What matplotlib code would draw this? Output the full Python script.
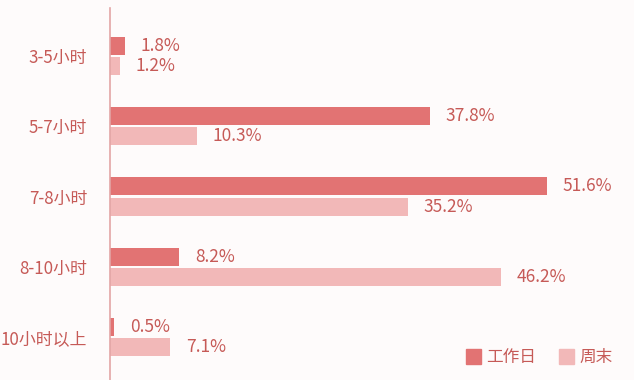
import matplotlib.pyplot as plt
import numpy as np
from matplotlib.patches import Patch

plt.rcParams['font.family'] = ['Noto Sans CJK SC', 'DejaVu Sans']

categories = ['3-5小时', '5-7小时', '7-8小时', '8-10小时', '10小时以上']
weekday = [1.8, 37.8, 51.6, 8.2, 0.5]
weekend = [1.2, 10.3, 35.2, 46.2, 7.1]
series_names = ['工作日', '周末']

c_work = '#e27373'
c_end = '#f2b8b8'
c_text = '#c65a57'
bg = '#fefbfb'

fig = plt.figure(figsize=(6.34, 3.80), dpi=100, facecolor=bg)
ax = fig.add_axes([110/634, 0, 1 - 110/634, 372/380], facecolor=bg)

y = np.arange(len(categories))
h = 0.256
off = 0.145
ax.barh(y - off, weekday, height=h, color=c_work)
ax.barh(y + off, weekend, height=h, color=c_end)

for yi, v in zip(y, weekday):
    ax.text(v + 1.85, yi - off, f'{v}%', va='center', ha='left',
            fontsize=12.5, color=c_text, fontweight='light')
for yi, v in zip(y, weekend):
    ax.text(v + 1.85, yi + off, f'{v}%', va='center', ha='left',
            fontsize=12.5, color=c_text, fontweight='light')

ax.set_xlim(0, 61.9)
ax.set_ylim(4.612, -0.683)
ax.set_yticks(y)
ax.set_yticklabels(categories, fontsize=12.2, color=c_text, fontweight='light')
ax.tick_params(axis='y', length=0, pad=16.5)
ax.set_xticks([])
for s in ['top', 'right', 'bottom']:
    ax.spines[s].set_visible(False)
ax.spines['left'].set_color('#e3a5a5')
ax.spines['left'].set_linewidth(1.2)

handles = [Patch(color=c_work), Patch(color=c_end)]
leg = fig.legend(handles, series_names, loc='lower right', bbox_to_anchor=(0.99, -0.003),
                 ncol=2, frameon=False, fontsize=12, handlelength=0.9, handleheight=1.0,
                 handletextpad=0.3, columnspacing=1.4)
for t in leg.get_texts():
    t.set_color(c_text)
    t.set_fontweight('light')

fig.savefig('out.png', dpi=100, facecolor=bg)
